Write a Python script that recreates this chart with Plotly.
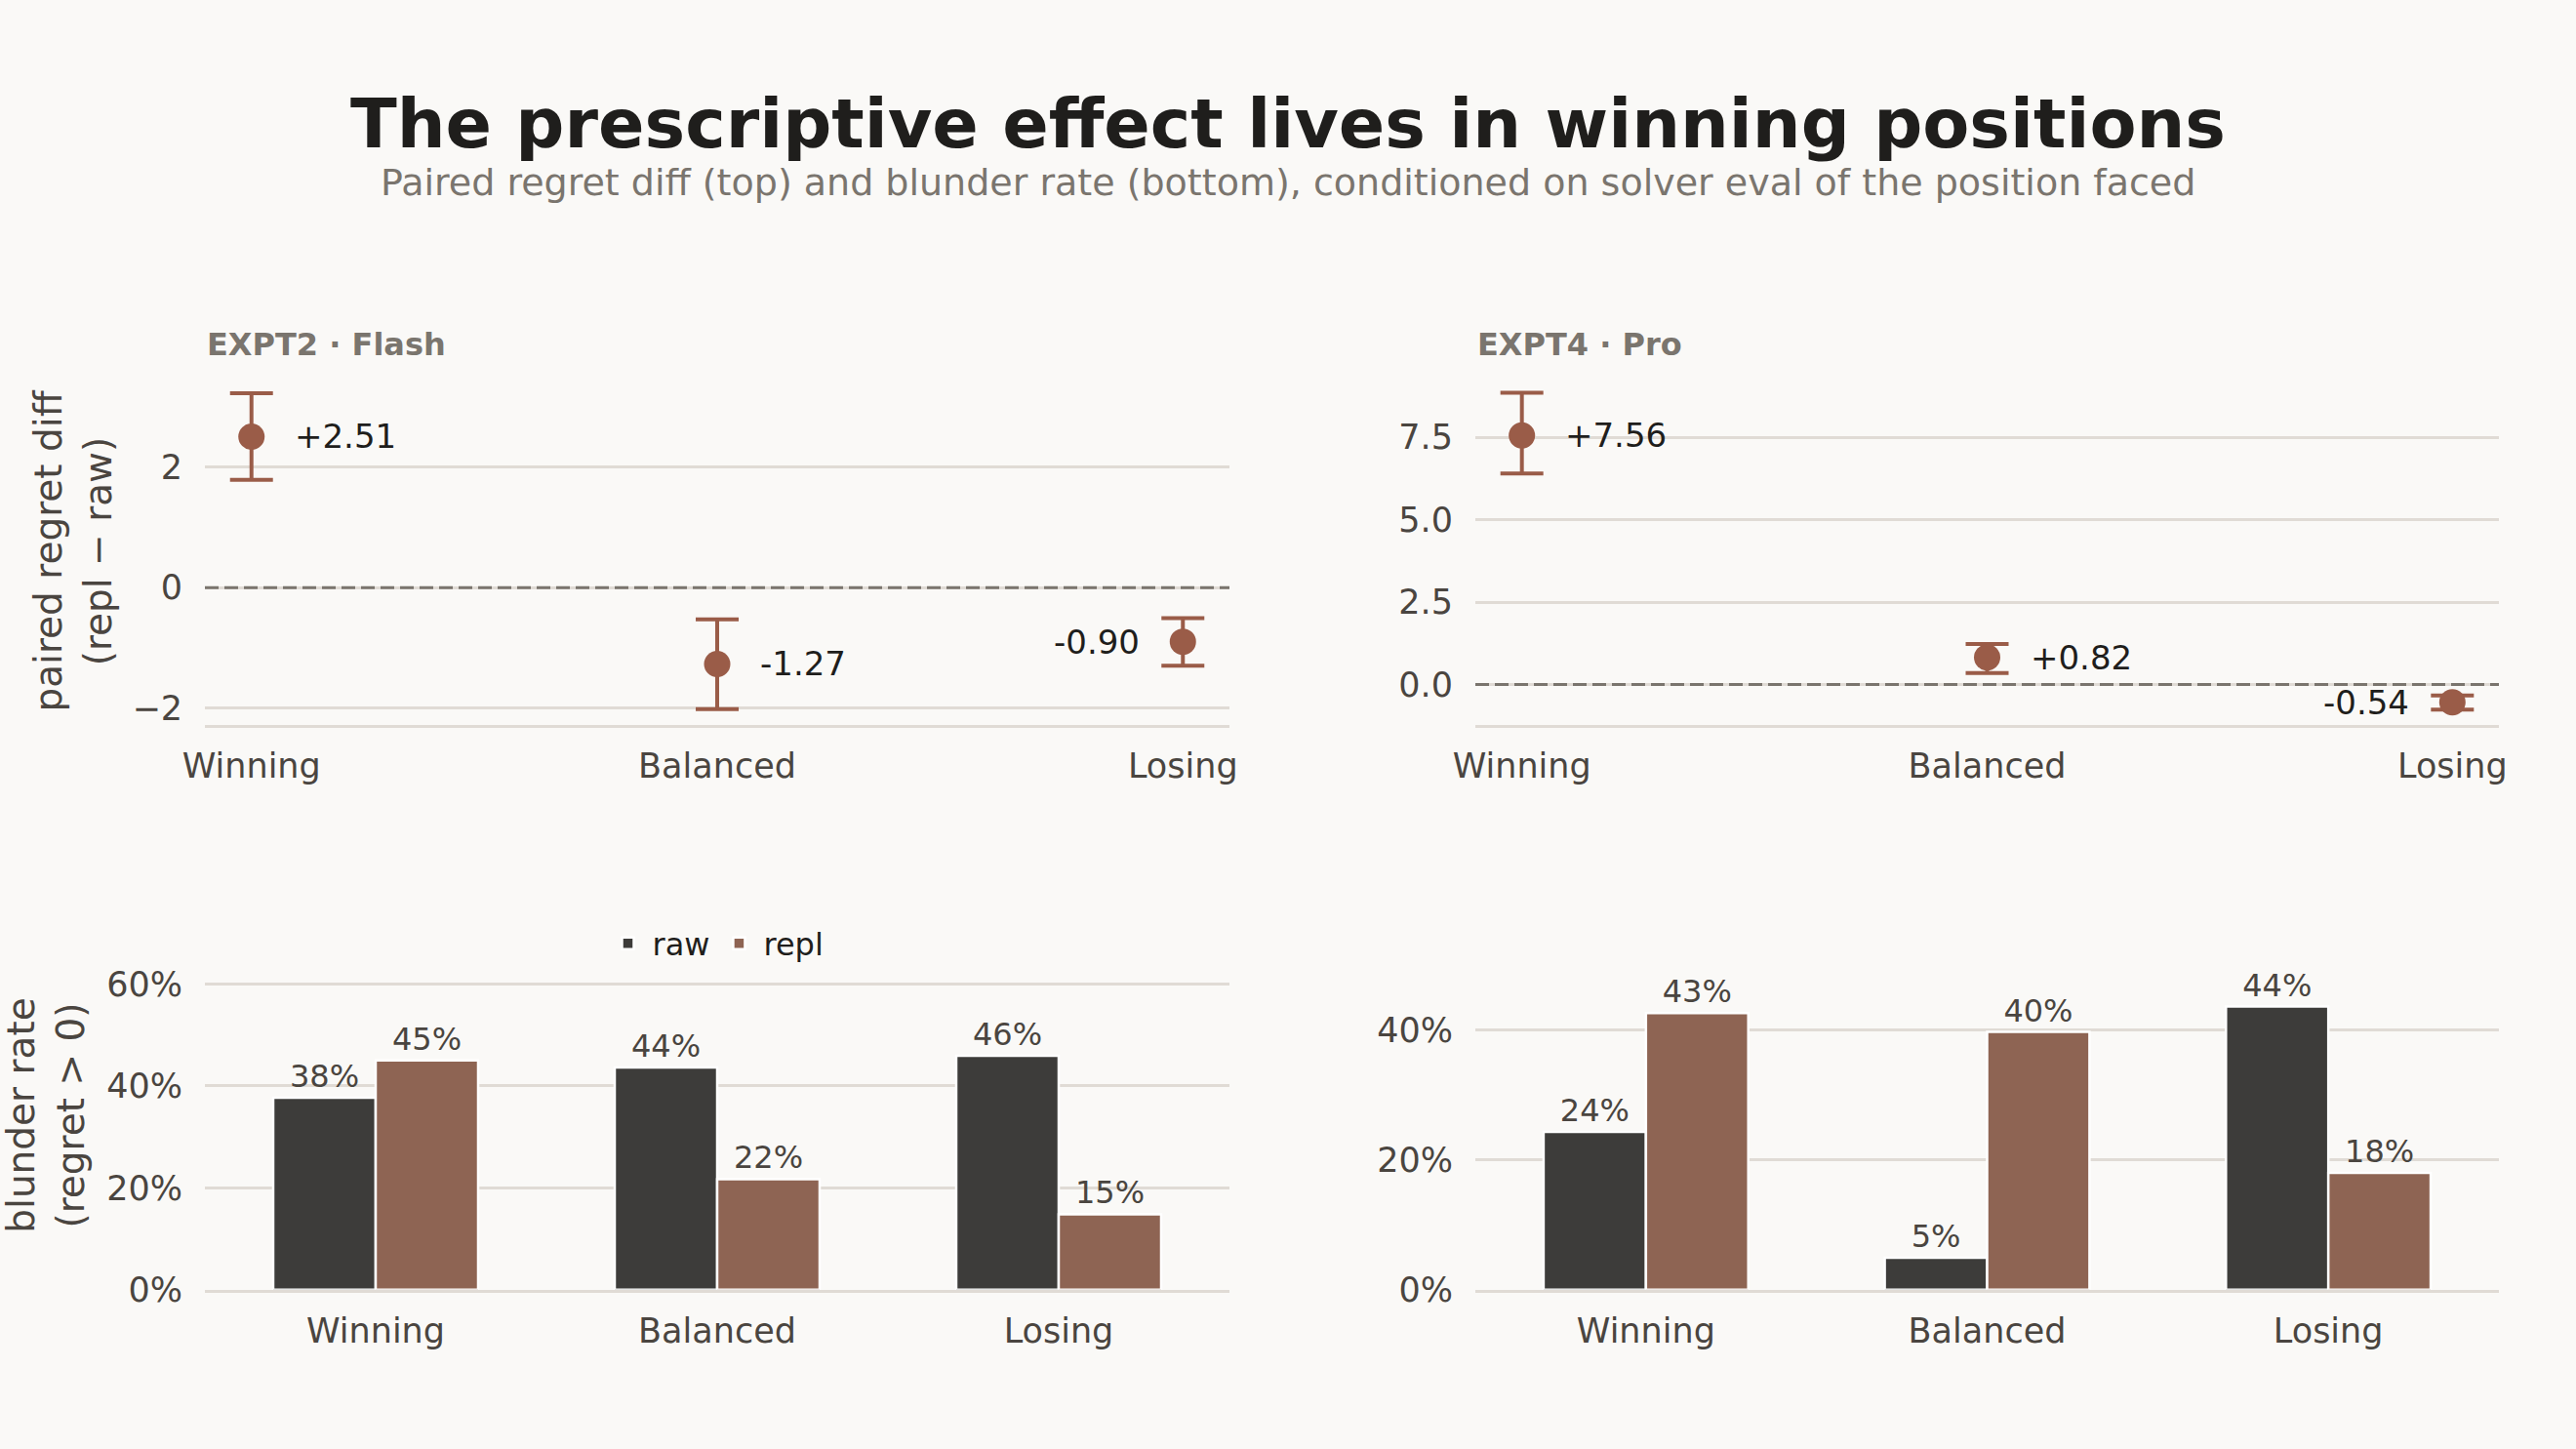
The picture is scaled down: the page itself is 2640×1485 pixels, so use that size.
import plotly.graph_objects as go
from plotly.subplots import make_subplots

# data
categories = ["Winning", "Balanced", "Losing"]

flash_diff = [2.51, -1.27, -0.90]
flash_ci_hi = [3.23, -0.53, -0.51]
flash_ci_lo = [1.79, -2.02, -1.30]

pro_diff = [7.56, 0.82, -0.54]
pro_ci_hi = [8.85, 1.23, -0.33]
pro_ci_lo = [6.40, 0.35, -0.76]

flash_raw = [0.377, 0.436, 0.459]
flash_repl = [0.450, 0.217, 0.148]
pro_raw = [0.243, 0.049, 0.436]
pro_repl = [0.426, 0.397, 0.180]

panel_titles = ["EXPT2 · Flash", "EXPT4 · Pro"]

BG = "#faf9f7"
POINT = "#9a5c48"
RAW = "#3d3c3a"
REPL = "#8e6453"
GRID = "#e0dbd5"
MUTED = "#7a756e"
TICK = "#4a4540"
INK = "#1f1e1c"
FONT = "DejaVu Sans"

W, H = 2640, 1485


def px_to_y(px):
    return 1 - px / H


fig = make_subplots(rows=2, cols=2)

# domains in paper units
x_dom = [[210 / W, 1260 / W], [1512 / W, 2561 / W]]
y_dom = [[px_to_y(742.7), px_to_y(386.4)], [px_to_y(1321.7), px_to_y(965.7)]]

diffs = [flash_diff, pro_diff]
his = [flash_ci_hi, pro_ci_hi]
los = [flash_ci_lo, pro_ci_lo]

for c in range(2):
    d = diffs[c]
    plus = [h - v for h, v in zip(his[c], d)]
    minus = [v - l for v, l in zip(d, los[c])]
    fig.add_trace(go.Scatter(
        x=categories, y=d, mode="markers", showlegend=False,
        marker=dict(size=27, color=POINT),
        error_y=dict(type="data", array=plus, arrayminus=minus, color=POINT,
                     thickness=4, width=22),
    ), row=1, col=c + 1)
    fig.add_hline(y=0, line=dict(color=MUTED, width=3, dash="14px,6px"), row=1, col=c + 1)

    # value labels next to each point
    axn = "" if c == 0 else "2"
    for i, (cat, v) in enumerate(zip(categories, d)):
        last = i == len(categories) - 1
        fig.add_annotation(
            x=cat, y=v, xref="x" + axn, yref="y" + axn, text=f"{v:+.2f}",
            showarrow=False, xanchor="right" if last else "left",
            xshift=-42 if last else 42,
            font=dict(family=FONT, size=34, color=INK),
        )

bars = [(flash_raw, flash_repl), (pro_raw, pro_repl)]
for c in range(2):
    raw, repl = bars[c]
    for name, vals, col in [("raw", raw, RAW), ("repl", repl, REPL)]:
        fig.add_trace(go.Bar(
            x=categories, y=vals, name=name, marker=dict(color=col, line=dict(color="white", width=2.5)),
            texttemplate="%{y:.0%}", textposition="outside", constraintext="none", cliponaxis=False,
            textfont=dict(family=FONT, size=32, color=TICK), showlegend=(c == 0),
        ), row=2, col=c + 1)

axis_font = dict(family=FONT, size=35, color=TICK)
for r in range(2):
    for c in range(2):
        fig.update_xaxes(domain=x_dom[c], showgrid=False, showline=True, linecolor=GRID, linewidth=3,
                         ticks="", tickfont=axis_font, ticklabelstandoff=9, zeroline=False,
                         automargin=False, row=r + 1, col=c + 1)
        fig.update_yaxes(domain=y_dom[r], showgrid=True, gridcolor=GRID, gridwidth=2.5,
                         showline=False, ticks="", tickfont=axis_font, ticklabelstandoff=22,
                         zeroline=False, automargin=False, row=r + 1, col=c + 1)

fig.update_xaxes(range=[-0.1, 2.1], row=1)
fig.update_xaxes(range=[-0.5, 2.5], row=2)
fig.update_yaxes(range=[-2.28, 3.5], dtick=2, row=1, col=1)
fig.update_yaxes(range=[-1.22, 9.33], dtick=2.5, tickformat=".1f", row=1, col=2)
fig.update_yaxes(range=[0, 0.682], dtick=0.2, tickformat=".0%", row=2, col=1)
fig.update_yaxes(range=[0, 0.535], dtick=0.2, tickformat=".0%", row=2, col=2)

# panel titles
for c in range(2):
    fig.add_annotation(x=x_dom[c][0], y=px_to_y(353), xref="paper", yref="paper",
                       text=panel_titles[c], showarrow=False, xanchor="left", yanchor="middle",
                       font=dict(family=FONT, size=32, color=MUTED, weight="bold"))

# y axis titles
fig.add_annotation(x=75 / W, y=sum(y_dom[0]) / 2, xref="paper", yref="paper",
                   text="paired regret diff<br>(repl − raw)", textangle=-90, showarrow=False,
                   xanchor="center", yanchor="middle", font=dict(family=FONT, size=39, color=TICK))
fig.add_annotation(x=47 / W, y=sum(y_dom[1]) / 2, xref="paper", yref="paper",
                   text="blunder rate<br>(regret > 0)", textangle=-90, showarrow=False,
                   xanchor="center", yanchor="middle", font=dict(family=FONT, size=39, color=TICK))

# subtitle
fig.add_annotation(x=0.5, y=px_to_y(187), xref="paper", yref="paper",
                   text="Paired regret diff (top) and blunder rate (bottom), conditioned on solver eval of the position faced",
                   showarrow=False, xanchor="center", yanchor="middle",
                   font=dict(family=FONT, size=38, color=MUTED))

fig.update_layout(
    width=W, height=H,
    margin=dict(l=0, r=0, t=0, b=0),
    paper_bgcolor=BG, plot_bgcolor=BG,
    title=dict(text="The prescriptive effect lives in winning positions", x=0.5, xanchor="center",
               y=px_to_y(126), yanchor="middle",
               font=dict(family=FONT, size=70, color=INK, weight="bold"), automargin=False),
    barmode="group", bargap=0.4, bargroupgap=0,
    legend=dict(orientation="h", x=734 / W, y=px_to_y(967), xanchor="center", yanchor="middle",
                font=dict(family=FONT, size=32, color=INK), bgcolor="rgba(0,0,0,0)",
                itemwidth=40),
    font=dict(family=FONT),
)

fig.write_html("out.html", config={"displayModeBar": False},
               post_script="document.body.style.margin='0';document.body.style.background='%s';" % BG)
